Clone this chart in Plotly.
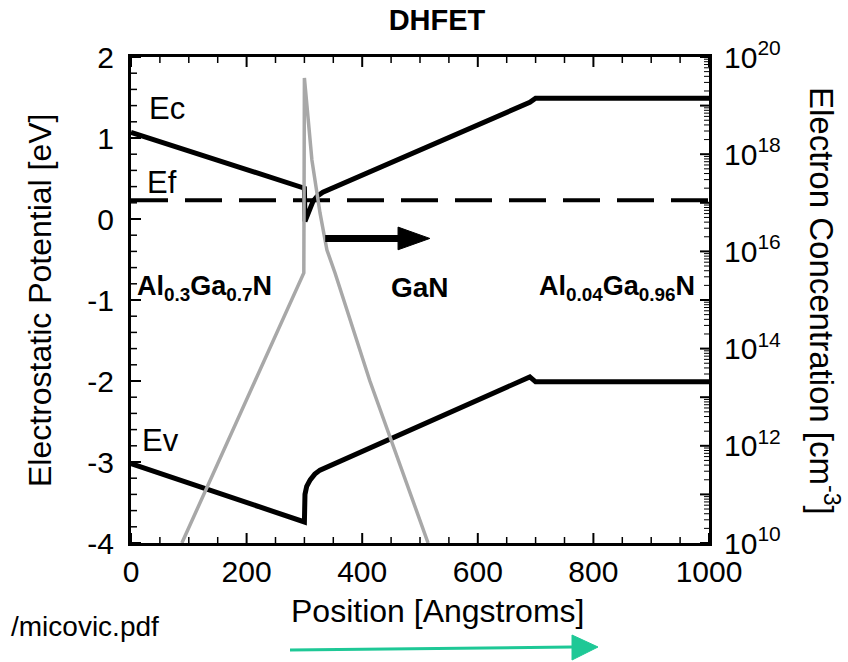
import math
import plotly.graph_objects as go

# ---------------- data ----------------
# Conduction band edge Ec (eV) vs position (Angstrom)
ec_x = [0, 300, 301, 304, 309, 315, 322, 332, 690, 700, 1000]
ec_y = [1.07, 0.38, -0.03, 0.02, 0.14, 0.22, 0.28, 0.33, 1.44, 1.49, 1.49]

# Valence band edge Ev (eV)
ev_x = [0, 300, 301, 304, 310, 318, 327, 690, 700, 1000]
ev_y = [-3.02, -3.74, -3.40, -3.30, -3.22, -3.15, -3.10, -1.95, -2.01, -2.01]

# Fermi level Ef (eV)
ef_x = [0, 1000]
ef_y = [0.23, 0.23]

# Electron concentration (cm^-3)
n_x = [88, 292, 299, 300, 313, 327, 339, 353, 379, 413, 514]
n_y = [1.0e10, 2.2e15, 3.6e15, 3.7e19, 7.6e17, 6.2e16, 1.07e16, 3.6e15, 3.9e14, 2.2e13, 1.0e10]

# axes / ticks
x_range = [0, 1000]
y_range = [-4, 2]
n_range_exp = [10, 20]
x_major = [0, 200, 400, 600, 800, 1000]
x_minor = list(range(0, 1001, 50))
y_ticks = [-4, -3, -2, -1, 0, 1, 2]
y_ticktext = ["-4", "-3", "-2", "-1", "0", "1", "2"]
y_minor = [round(-4 + 0.2 * i, 1) for i in range(31)]
n_tickvals = [1e10, 1e12, 1e14, 1e16, 1e18, 1e20]
n_ticktext = ["10<sup>10</sup>", "10<sup>12</sup>", "10<sup>14</sup>",
              "10<sup>16</sup>", "10<sup>18</sup>", "10<sup>20</sup>"]
n_major = [10.0 ** e for e in range(10, 21)]
n_minor = [m * 10.0 ** e for e in range(10, 20) for m in range(2, 10)]

FONT = "Liberation Sans, Arial, sans-serif"
PW, PH = 578, 486  # plot area size in px

fig = go.Figure()
fig.add_trace(go.Scatter(x=ec_x, y=ec_y, mode="lines",
                         line=dict(color="black", width=5), yaxis="y"))
fig.add_trace(go.Scatter(x=ev_x, y=ev_y, mode="lines",
                         line=dict(color="black", width=5), yaxis="y"))
fig.add_trace(go.Scatter(x=ef_x, y=ef_y, mode="lines",
                         line=dict(color="black", width=4, dash="37px,17px"), yaxis="y"))
fig.add_trace(go.Scatter(x=n_x, y=n_y, mode="lines",
                         line=dict(color="#a8a8a8", width=3.5), yaxis="y2"))

fig.update_layout(
    width=848, height=662,
    margin=dict(l=131, r=139, t=57, b=119),
    plot_bgcolor="white", paper_bgcolor="white",
    showlegend=False,
    font=dict(family=FONT, color="black", size=30),
    title=dict(text="<b>DHFET</b>", x=437 / 848, xanchor="center",
               y=1 - 20 / 662, yanchor="middle", yref="container",
               font=dict(size=29, family=FONT, color="black")),
    xaxis=dict(range=x_range, tickmode="array", tickvals=x_major,
               ticktext=[str(v) for v in x_major], ticks="",
               showline=True, linewidth=3, linecolor="black", mirror=True,
               showgrid=False, zeroline=False, tickfont=dict(size=30)),
    yaxis=dict(range=y_range, tickmode="array", tickvals=y_ticks, ticktext=y_ticktext,
               ticks="", ticklabelstandoff=8,
               showline=True, linewidth=3, linecolor="black", mirror=False,
               showgrid=False, zeroline=False, tickfont=dict(size=30)),
    yaxis2=dict(type="log", range=n_range_exp, overlaying="y", side="right", anchor="x",
                tickmode="array", tickvals=n_tickvals, ticktext=n_ticktext,
                ticks="", ticklabelstandoff=6,
                showline=True, linewidth=3, linecolor="black",
                showgrid=False, zeroline=False, tickfont=dict(size=30)),
)

shapes = []


def tick(xref, yref, x0, x1, y0, y1, w):
    shapes.append(dict(type="line", xref=xref, yref=yref, x0=x0, x1=x1, y0=y0, y1=y1,
                       line=dict(color="black", width=w), layer="above"))


# bottom / top ticks
for v in x_minor:
    major = v in x_major
    L = (10 if major else 6) / PH
    w = 2 if major else 1.5
    tick("x", "paper", v, v, 0, L, w)
    tick("x", "paper", v, v, 1, 1 - L, w)
# left ticks
for v in y_minor:
    major = abs(v - round(v)) < 1e-9
    L = (10 if major else 6) / PW
    tick("paper", "y", 0, L, v, v, 2 if major else 1.5)
# right (log) ticks
for v in n_major + n_minor:
    major = v in n_major
    L = (9 if major else 5) / PW
    f = (math.log10(v) - n_range_exp[0]) / (n_range_exp[1] - n_range_exp[0])
    tick("paper", "paper", 1, 1 - L, f, f, 2 if major else 1)

# black arrow inside plot
shapes.append(dict(type="line", xref="x", yref="y", x0=336, x1=465, y0=-0.24, y1=-0.24,
                   line=dict(color="black", width=7)))
shapes.append(dict(type="path", xref="x", yref="y",
                   path="M 462,-0.10 L 517,-0.24 L 462,-0.38 Z",
                   fillcolor="black", line=dict(color="black", width=1)))
# green arrow below the plot
gy_l, gy_r = (543 - 650) / PH, (543 - 647) / PH
gx0, gx1, gx2 = (290 - 131) / PW, (572 - 131) / PW, (598 - 131) / PW
shapes.append(dict(type="line", xref="paper", yref="paper",
                   x0=gx0, x1=gx1, y0=gy_l, y1=gy_r,
                   line=dict(color="#1ec896", width=3)))
shapes.append(dict(type="path", xref="paper", yref="paper",
                   path=f"M {gx1},{(543-635)/PH} L {gx2},{gy_r} L {gx1},{(543-660)/PH} Z",
                   fillcolor="#1ec896", line=dict(color="#1ec896", width=1)))
fig.update_layout(shapes=shapes)

ann = []
# axis titles
ann.append(dict(text="Position [Angstroms]", xref="paper", yref="paper",
                x=(437 - 131) / PW, y=(543 - 611) / PH, showarrow=False,
                xanchor="center", yanchor="middle", font=dict(size=32)))
ann.append(dict(text="Electrostatic Potential [eV]", xref="paper", yref="paper",
                x=(40 - 131) / PW, y=(543 - 300) / PH, showarrow=False, textangle=-90,
                xanchor="center", yanchor="middle", font=dict(size=32)))
ann.append(dict(text="Electron Concentration [cm<sup>-3</sup>]", xref="paper", yref="paper",
                x=(824 - 131) / PW, y=(543 - 301) / PH, showarrow=False, textangle=90,
                xanchor="center", yanchor="middle", font=dict(size=33)))
# band labels
ann.append(dict(text="Ec", x=28, y=1.36, xref="x", yref="y", showarrow=False,
                xanchor="left", yanchor="middle", font=dict(size=31)))
ann.append(dict(text="Ef", x=24, y=0.45, xref="x", yref="y", showarrow=False,
                xanchor="left", yanchor="middle", font=dict(size=31)))
ann.append(dict(text="Ev", x=16, y=-2.74, xref="x", yref="y", showarrow=False,
                xanchor="left", yanchor="middle", font=dict(size=31)))
# material labels
ann.append(dict(text="<b>Al<sub>0.3</sub>Ga<sub>0.7</sub>N</b>", x=7, y=-0.85, xref="x", yref="y",
                showarrow=False, xanchor="left", yanchor="middle", font=dict(size=27)))
ann.append(dict(text="<b>GaN</b>", x=500, y=-0.85, xref="x", yref="y",
                showarrow=False, xanchor="center", yanchor="middle", font=dict(size=28)))
ann.append(dict(text="<b>Al<sub>0.04</sub>Ga<sub>0.96</sub>N</b>", x=702, y=-0.85, xref="x", yref="y",
                showarrow=False, xanchor="left", yanchor="middle", font=dict(size=27)))
# source text
ann.append(dict(text="/micovic.pdf", xref="paper", yref="paper",
                x=(161 - 131) / PW, y=(543 - 627) / PH, showarrow=False,
                xanchor="right", yanchor="middle", font=dict(size=28)))
fig.update_layout(annotations=ann)

fig.write_html("out.html")
